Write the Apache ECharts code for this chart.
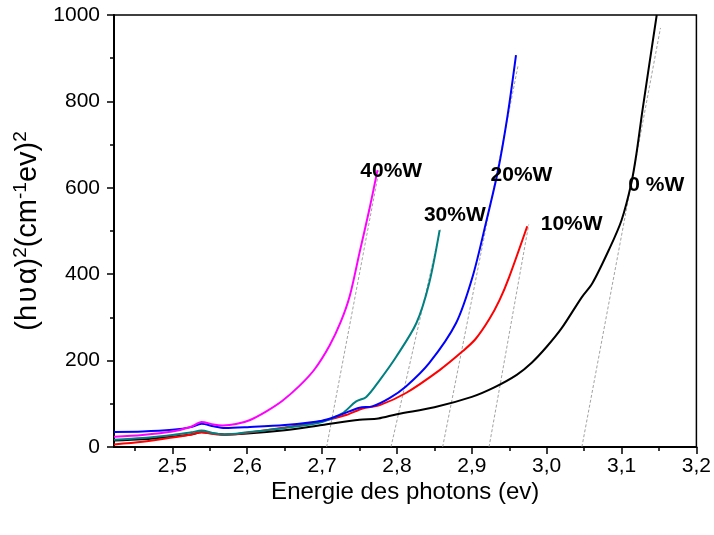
<!DOCTYPE html>
<html><head><meta charset="utf-8">
<script src="https://cdn.jsdelivr.net/npm/echarts@6/dist/echarts.min.js"></script>
<style>html,body{margin:0;padding:0;background:#fff}#c{width:714px;height:535px}</style>
</head><body><div id="c"></div>
<script>
// X tick labels
const xTicks = [2.5, 2.6, 2.7, 2.8, 2.9, 3.0, 3.1, 3.2];
const xMinorTicks = [2.45, 2.55, 2.65, 2.75, 2.85, 2.95, 3.05, 3.15];

// 0 %W (black)
const x0 = [2.422, 2.46, 2.50, 2.525, 2.539, 2.555, 2.57, 2.60, 2.65, 2.70, 2.75, 2.775, 2.80, 2.85, 2.90, 2.93, 2.96, 2.98, 3.00, 3.02, 3.047, 3.061, 3.083, 3.10, 3.113, 3.12, 3.128, 3.147];
const y0 = [15, 18, 24, 29, 34, 31, 29, 31, 39, 51, 63, 66, 76, 92, 116, 138, 167, 195, 232, 275, 347, 379, 456, 525, 610, 680, 780, 1000];
// 10%W (red)
const x1 = [2.422, 2.46, 2.50, 2.525, 2.539, 2.555, 2.57, 2.60, 2.65, 2.70, 2.732, 2.754, 2.777, 2.812, 2.857, 2.888, 2.905, 2.923, 2.937, 2.95, 2.974];
const y1 = [6, 12, 22, 29, 34, 30, 28, 33, 45, 60, 74, 89, 97, 125, 178, 222, 250, 295, 340, 394, 511];
// 20%W (blue)
const x2 = [2.422, 2.46, 2.50, 2.525, 2.539, 2.555, 2.57, 2.60, 2.65, 2.70, 2.725, 2.75, 2.767, 2.79, 2.812, 2.843, 2.879, 2.901, 2.919, 2.935, 2.948, 2.959];
const y2 = [35, 36, 40, 46, 54, 48, 44, 46, 51, 61, 75, 91, 94, 113, 140, 194, 287, 394, 520, 640, 770, 907];
// 30%W (teal)
const x3 = [2.422, 2.46, 2.50, 2.525, 2.539, 2.555, 2.57, 2.60, 2.65, 2.70, 2.727, 2.745, 2.759, 2.777, 2.799, 2.826, 2.843, 2.857];
const y3 = [17, 21, 28, 34, 38, 32, 29, 34, 44, 58, 78, 105, 116, 155, 209, 287, 379, 502];
// 40%W (magenta)
const x4 = [2.422, 2.46, 2.50, 2.525, 2.539, 2.555, 2.567, 2.585, 2.603, 2.625, 2.647, 2.67, 2.69, 2.71, 2.725, 2.737, 2.75, 2.763, 2.774];
const y4 = [24, 28, 36, 47, 58, 52, 50, 53, 62, 82, 107, 142, 180, 235, 290, 350, 450, 549, 641];

// Tangent (extrapolation) lines
const tx40 = [2.706, 2.776], ty40 = [0, 640];
const tx30 = [2.792, 2.858], ty30 = [0, 505];
const tx20 = [2.861, 2.962], ty20 = [0, 885];
const tx10 = [2.923, 2.976], ty10 = [0, 515];
const tx0  = [3.047, 3.152], ty0  = [0, 970];

// Curve labels
const labelText = ['40%W', '30%W', '20%W', '10%W', '0 %W'];
const labelX = [2.793, 2.878, 2.967, 3.034, 3.147];
const labelY = [637, 535, 627, 514, 604];

function pairs(xs, ys) { return xs.map((x, i) => [x, ys[i]]); }
const FONT = 'Liberation Sans, Arial, sans-serif';

const curves = [
  {name: '0 %W', xs: x0, ys: y0, color: '#000000'},
  {name: '10%W', xs: x1, ys: y1, color: '#ff0000'},
  {name: '30%W', xs: x3, ys: y3, color: '#008080'},
  {name: '20%W', xs: x2, ys: y2, color: '#0000ff'},
  {name: '40%W', xs: x4, ys: y4, color: '#ff00ff'}
];
const tangents = [[tx40, ty40], [tx30, ty30], [tx20, ty20], [tx10, ty10], [tx0, ty0]];

const series = [];
tangents.forEach(t => series.push({
  type: 'line', data: pairs(t[0], t[1]), symbol: 'none', silent: true,
  lineStyle: {color: '#8a8a8a', width: 0.8, type: [3, 2]}, z: 1
}));
curves.forEach(c => series.push({
  type: 'line', name: c.name, data: pairs(c.xs, c.ys), symbol: 'none', smooth: 0.3,
  lineStyle: {color: c.color, width: 2}, z: 3
}));
series.push({
  type: 'scatter', symbolSize: 1, itemStyle: {opacity: 0}, silent: true, z: 5,
  data: labelText.map((t, i) => ({name: t, value: [labelX[i], labelY[i]]})),
  label: {show: true, position: [0, 0], align: 'center', verticalAlign: 'middle', formatter: p => p.name,
    fontFamily: FONT, fontWeight: 'bold', fontSize: 21, color: '#000', opacity: 1}
});

const chart = echarts.init(document.getElementById('c'), null, {renderer: 'canvas'});
chart.setOption({
  animation: false,
  backgroundColor: '#fff',
  grid: {left: 114, right: 17, top: 15, bottom: 88, show: true, borderColor: '#000', borderWidth: 1.5, backgroundColor: 'transparent'},
  xAxis: [{
    type: 'value', min: 2.422, max: 3.2,
    name: 'Energie des photons (ev)', nameLocation: 'middle', nameGap: 33, nameMoveOverlap: false,
    nameTextStyle: {fontFamily: FONT, fontSize: 24, color: '#000'},
    axisLine: {show: true, lineStyle: {color: '#000', width: 2}},
    axisTick: {show: true, length: 7, lineStyle: {color: '#000', width: 1.5}, customValues: xTicks},
    axisLabel: {fontFamily: FONT, fontSize: 21, color: '#000', margin: 9, customValues: xTicks,
      formatter: v => v.toFixed(1).replace('.', ',')},
    splitLine: {show: false}
  }, {
    type: 'value', min: 2.422, max: 3.2, position: 'bottom',
    axisLine: {show: false},
    axisTick: {show: true, length: 4, lineStyle: {color: '#000', width: 1.5}, customValues: xMinorTicks},
    axisLabel: {show: false},
    splitLine: {show: false}
  }],
  yAxis: {
    type: 'value', min: 0, max: 1000, interval: 200,
    name: '{n|(h\u200aυ\u200aα)}{s|2}{n|(cm}{s|-1}{n|ev)}{s|2}', nameLocation: 'middle', nameGap: 62,
    nameTextStyle: {fontFamily: FONT, color: '#000',
      rich: {
        n: {fontFamily: FONT, fontSize: 29, color: '#000', lineHeight: 31, verticalAlign: 'bottom'},
        s: {fontFamily: FONT, fontSize: 19, color: '#000', lineHeight: 31, verticalAlign: 'top'}
      }},
    axisLine: {show: true, lineStyle: {color: '#000', width: 2}},
    axisTick: {show: true, length: 7, lineStyle: {color: '#000', width: 1.5}},
    minorTick: {show: true, splitNumber: 2, length: 4, lineStyle: {color: '#000', width: 1.5}},
    axisLabel: {fontFamily: FONT, fontSize: 21, color: '#000', margin: 14, formatter: v => String(v)},
    splitLine: {show: false}
  },
  series: series
});
</script>
</body></html>
